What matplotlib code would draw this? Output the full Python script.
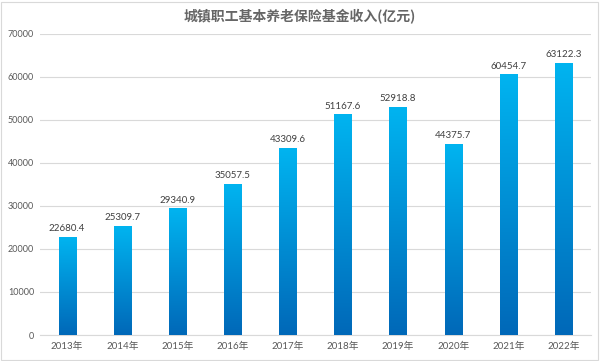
import numpy as np
import matplotlib.pyplot as plt
from matplotlib.colors import LinearSegmentedColormap
from matplotlib.patches import Rectangle

plt.rcParams['font.family'] = ['Lato', 'Noto Sans CJK SC', 'DejaVu Sans']

years = ["2013年", "2014年", "2015年", "2016年", "2017年",
         "2018年", "2019年", "2020年", "2021年", "2022年"]
income = [22680.4, 25309.7, 29340.9, 35057.5, 43309.6,
          51167.6, 52918.8, 44375.7, 60454.7, 63122.3]
yticks = [0, 10000, 20000, 30000, 40000, 50000, 60000, 70000]

fig = plt.figure(figsize=(6, 3.61), dpi=100)
ax = fig.add_axes([0.066, 0.072, 0.919, 0.834])

cmap = LinearSegmentedColormap.from_list("bar", ["#0068B8", "#00B4F0"])
grad = np.linspace(0, 1, 256).reshape(-1, 1)
w = 0.31
x = np.arange(len(years))
for xi, v in zip(x, income):
    ax.imshow(grad, cmap=cmap, origin="lower", aspect="auto",
              extent=[xi - w / 2, xi + w / 2, 0, v], zorder=3)
    ax.text(xi, v + 1000, f"{v:.1f}", ha="center", va="bottom",
            fontsize=7, color="#404040", zorder=4)

ax.set_xlim(-0.5, len(years) - 0.5)
ax.set_ylim(0, 70000)
ax.set_xticks(x)
ax.set_xticklabels(years)
ax.set_yticks(yticks)
ax.set_yticklabels([str(t) for t in yticks])
ax.tick_params(axis="both", length=0, labelsize=7, colors="#595959")
ax.tick_params(axis="x", pad=5)
ax.tick_params(axis="y", pad=4, labelsize=6.5)
ax.grid(axis="y", color="#D9D9D9", linewidth=0.8, zorder=0)
for s in ["top", "right", "left"]:
    ax.spines[s].set_visible(False)
ax.spines["bottom"].set_color("#D9D9D9")
ax.spines["bottom"].set_linewidth(0.8)

fig.text(0.5, 0.955, "城镇职工基本养老保险基金收入(亿元)", ha="center", va="center",
         fontsize=10, color="#666666", fontweight="bold",
         family=["Noto Sans CJK SC", "DejaVu Sans"])
fig.patches.append(Rectangle((0.002, 0.004), 0.995, 0.99, transform=fig.transFigure,
                             fill=False, edgecolor="#D9D9D9", linewidth=0.8))

fig.savefig("out.png", dpi=100)
